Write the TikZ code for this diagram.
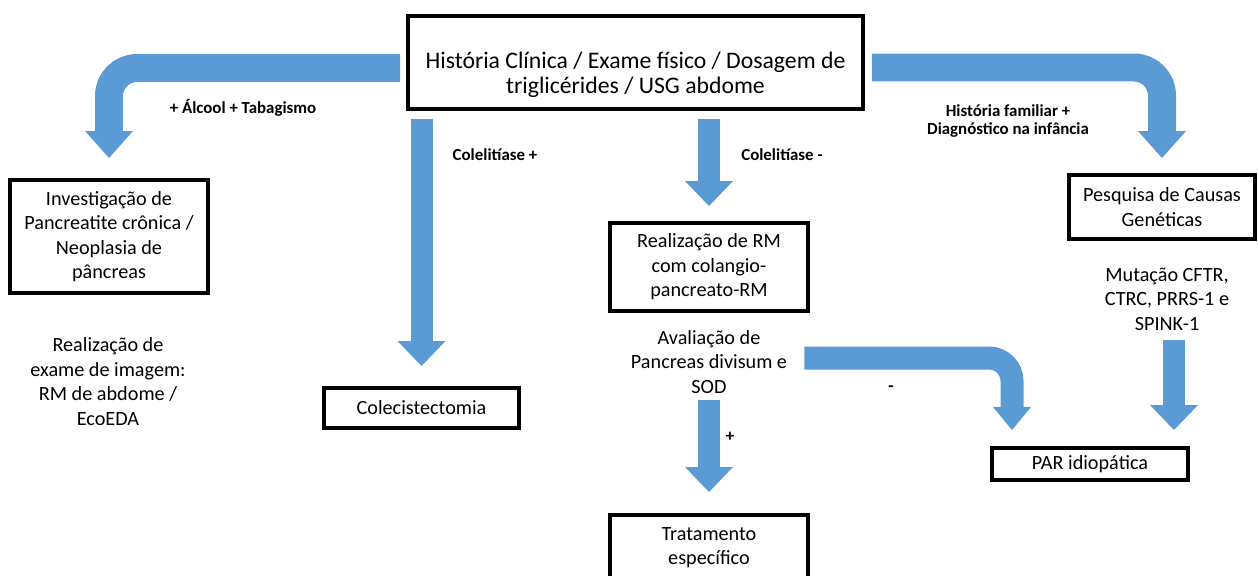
\documentclass[tikz,border=0pt]{standalone}
\usepackage{fontspec}
\setmainfont{Carlito}
\usetikzlibrary{arrows.meta}
\definecolor{arrowblue}{RGB}{91,155,213}
\tikzset{
  box/.style={draw=black, line width=0.08cm, inner sep=0pt},
  txt/.style={align=center, font=\fontsize{11.5}{13.9}\selectfont, inner sep=0pt},
  bigtxt/.style={align=center, font=\fontsize{13.5}{14.3}\selectfont, inner sep=0pt},
  cond/.style={align=center, font=\fontsize{9.6}{10.4}\selectfont\bfseries, inner sep=0pt},
  wideshaft/.style={draw=arrowblue, line width=0.56cm, rounded corners=0.56cm,
    -{Triangle[length=0.54cm,width=0.96cm,line width=0pt]}},
  shaft/.style={draw=arrowblue, line width=0.44cm,
    -{Triangle[length=0.5cm,width=0.96cm,line width=0pt]}},
  smallbent/.style={draw=arrowblue, line width=0.46cm, rounded corners=0.46cm,
    -{Triangle[length=0.46cm,width=0.76cm,line width=0pt]}}
}
\begin{document}
\begin{tikzpicture}[x=0.02cm,y=-0.02cm]
\useasboundingbox (0,0) rectangle (1258,575);
% boxes
\node[box, minimum width=9.1cm, minimum height=1.86cm] (hist) at (635.5,62.5) {};
\node[bigtxt] (histtxt) at (635.5,75) {História Clínica / Exame físico / Dosagem de\\triglicérides / USG abdome};
\node[box, txt, minimum width=3.96cm, minimum height=2.26cm] (inv) at (109,236.5) {Investigação de\\Pancreatite crônica /\\Neoplasia de\\pâncreas};
\node[txt] (exame) at (108,381.5) {Realização de\\exame de imagem:\\RM de abdome /\\EcoEDA};
\node[box, txt, minimum width=3.9cm, minimum height=0.8cm] (colec) at (421.5,408) {Colecistectomia};
\node[box, txt, minimum width=3.96cm, minimum height=1.76cm] (rm) at (709,267) {Realização de RM\\com colangio-\\pancreato-RM};
\node[txt] (aval) at (709,362) {Avaliação de\\Pancreas divisum e\\SOD};
\node[box, txt, minimum width=3.96cm, minimum height=1.3cm] (trat) at (709,547.5) {Tratamento\\específico};
\node[box, txt, minimum width=3.72cm, minimum height=1.28cm] (pesq) at (1162,207) {Pesquisa de Causas\\Genéticas};
\node[txt] (mut) at (1167,299) {Mutação CFTR,\\CTRC, PRRS-1 e\\SPINK-1};
\node[box, txt, minimum width=3.92cm, minimum height=0.64cm] (par) at (1090,464) {PAR idiopática};
% conditions
\node[cond] (alcool) at (243,108) {+ Álcool + Tabagismo};
\node[cond] (litpos) at (495,155) {Colelitíase +};
\node[cond] (litneg) at (782,155) {Colelitíase -};
\node[cond] (famil) at (1008,121) {História familiar +\\Diagnóstico na infância};
\node[cond] (menos) at (891,389) {-};
\node[cond] (mais) at (730,437) {+};
% block arrows
\draw[wideshaft] ([xshift=-0.12cm,yshift=-0.11cm]hist.west) -| ([yshift=0.4cm]inv.north);
\draw[wideshaft] ([xshift=0.14cm,yshift=-0.1cm]hist.east) -| ([yshift=0.3cm]pesq.north);
\draw[shaft] ([yshift=-0.16cm]colec.north |- hist.south) -- ([yshift=0.4cm]colec.north);
\draw[shaft] ([yshift=-0.16cm]rm.north |- hist.south) -- ([yshift=0.3cm]rm.north);
\draw[shaft] ([yshift=-0.12cm]aval.south) -- ([yshift=0.42cm]trat.north);
\draw[smallbent] ([xshift=0.34cm,yshift=0.08cm]aval.east) -| ([xshift=0.44cm,yshift=0.32cm]par.north west);
\draw[shaft] ([xshift=-0.32cm,yshift=-0.18cm]par.north east |- mut.south) -- ([xshift=-0.32cm,yshift=0.32cm]par.north east);
\end{tikzpicture}
\end{document}
